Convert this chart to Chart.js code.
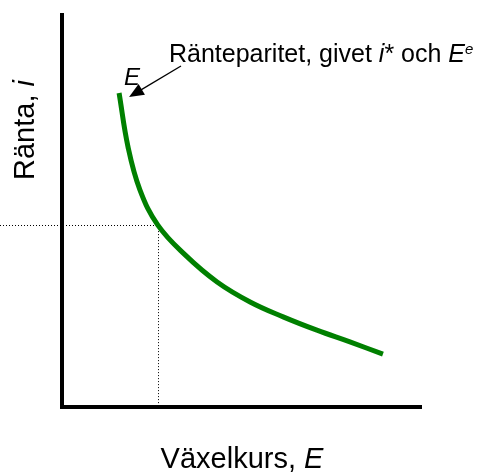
<!DOCTYPE html>
<html lang="sv">
<head>
<meta charset="utf-8">
<title>Ränteparitet</title>
<script src="https://cdn.jsdelivr.net/npm/chart.js@4.4.1/dist/chart.umd.min.js"></script>
<style>
  html, body {
    margin: 0;
    padding: 0;
    background: #ffffff;
  }

  .grafico {
    position: relative;
    width: 481px;
    height: 472px;
  }
</style>
</head>
<body>
<div class="grafico">
  <canvas id="chartRanteparitet" width="481" height="472"></canvas>
</div>
<script>
// Växelkurs E och ränta i längs ränteparitetskurvan
const kursE = [1.59, 1.84, 2.17, 2.67, 3.43, 4.32, 5.24, 6.16, 7.10, 8.02, 8.94];
const rantaI = [8.01, 6.63, 5.54, 4.64, 3.88, 3.19, 2.68, 2.30, 1.96, 1.66, 1.35];

// jämviktspunkten som de prickade hjälplinjerna går till
const jamviktE = [2.67];
const jamviktI = [4.64];

const axelMin = 0;
const axelMax = 10;

const FONT = '"Liberation Sans", Arial, sans-serif';

function skrivDelar(ctx, delar, x, y, align) {
  // delar: [text, kursiv, storlek, höjning]
  const bredd = delar.reduce((acc, d) => {
    ctx.font = `${d[1] ? "italic " : ""}${d[2]}px ${FONT}`;
    return acc + ctx.measureText(d[0]).width;
  }, 0);

  let pos = align === "center" ? x - bredd / 2 : x;
  delar.forEach((d) => {
    ctx.font = `${d[1] ? "italic " : ""}${d[2]}px ${FONT}`;
    ctx.fillText(d[0], pos, y - (d[3] || 0));
    pos += ctx.measureText(d[0]).width;
  });
}

const texterPlugin = {
  id: "texter",

  beforeDatasetsDraw(chart) {
    const ctx = chart.ctx;
    const xs = chart.scales.x;
    const ys = chart.scales.y;

    const px = xs.getPixelForValue(jamviktE[0]);
    const py = ys.getPixelForValue(jamviktI[0]);

    ctx.save();
    ctx.strokeStyle = "#000000";
    ctx.lineWidth = 1;
    ctx.setLineDash([1, 2]);
    ctx.beginPath();
    ctx.moveTo(0, Math.round(py) + 0.5);
    ctx.lineTo(px, Math.round(py) + 0.5);
    ctx.moveTo(Math.round(px) + 0.5, py);
    ctx.lineTo(Math.round(px) + 0.5, ys.getPixelForValue(axelMin));
    ctx.stroke();
    ctx.restore();
  },

  afterDraw(chart) {
    const ctx = chart.ctx;
    const xs = chart.scales.x;
    const ys = chart.scales.y;

    ctx.save();
    ctx.fillStyle = "#000000";
    ctx.textBaseline = "alphabetic";
    ctx.textAlign = "left";

    // axeltitlar
    skrivDelar(ctx, [["Växelkurs, ", false, 29], ["E", true, 29]], 242, 468, "center");

    ctx.save();
    ctx.translate(34, 130);
    ctx.rotate(-Math.PI / 2);
    skrivDelar(ctx, [["Ränta, ", false, 29], ["i", true, 29]], 0, 0, "center");
    ctx.restore();

    // kurvans namn
    skrivDelar(ctx, [
      ["Ränteparitet, givet ", false, 25],
      ["i", true, 25],
      ["* och ", false, 25],
      ["E", true, 25],
      ["e", true, 15, 8]
    ], 169, 62, "left");

    skrivDelar(ctx, [["E", true, 24]], 124, 85, "left");

    // pil från texten till kurvans början
    const sx = xs.getPixelForValue(kursE[0]);
    const sy = ys.getPixelForValue(rantaI[0]);
    const tipX = sx + 10;
    const tipY = sy + 4;
    const fromX = 181;
    const fromY = 66;
    const vinkel = Math.atan2(tipY - fromY, tipX - fromX);

    ctx.strokeStyle = "#000000";
    ctx.lineWidth = 1.3;
    ctx.beginPath();
    ctx.moveTo(fromX, fromY);
    ctx.lineTo(tipX - 10 * Math.cos(vinkel), tipY - 10 * Math.sin(vinkel));
    ctx.stroke();

    ctx.beginPath();
    ctx.moveTo(tipX, tipY);
    ctx.lineTo(tipX - 16 * Math.cos(vinkel - 0.4), tipY - 16 * Math.sin(vinkel - 0.4));
    ctx.lineTo(tipX - 16 * Math.cos(vinkel + 0.4), tipY - 16 * Math.sin(vinkel + 0.4));
    ctx.closePath();
    ctx.fill();

    ctx.restore();
  }
};

const ctx = document.getElementById("chartRanteparitet");

new Chart(ctx, {
  type: "line",
  data: {
    datasets: [
      {
        label: "Ränteparitet",
        data: kursE.map((e, idx) => ({ x: e, y: rantaI[idx] })),
        borderColor: "#008000",
        borderWidth: 5,
        borderCapStyle: "butt",
        pointRadius: 0,
        tension: 0.4,
        fill: false
      }
    ]
  },
  options: {
    responsive: false,
    animation: false,
    devicePixelRatio: 1,
    layout: {
      padding: { left: 62, right: 60, top: 15, bottom: 65 }
    },
    plugins: {
      legend: { display: false },
      tooltip: { enabled: false }
    },
    scales: {
      x: {
        type: "linear",
        min: axelMin,
        max: axelMax,
        ticks: { display: false },
        grid: { display: false },
        border: { display: true, color: "#000000", width: 4 },
        afterFit(scale) { scale.height = 0; }
      },
      y: {
        type: "linear",
        min: axelMin,
        max: axelMax,
        ticks: { display: false },
        grid: { display: false },
        border: { display: true, color: "#000000", width: 4 },
        afterFit(scale) { scale.width = 0; }
      }
    }
  },
  plugins: [texterPlugin]
});
</script>
</body>
</html>
